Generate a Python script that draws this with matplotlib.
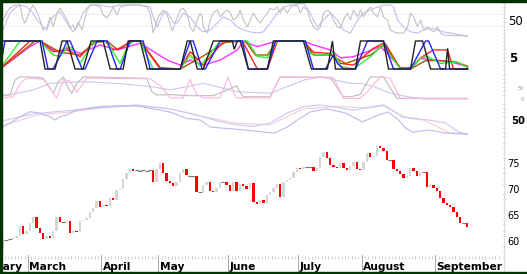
import numpy as np
import matplotlib
matplotlib.use("Agg")
import matplotlib.pyplot as plt
from matplotlib.lines import Line2D
from matplotlib.patches import Rectangle
from matplotlib.ticker import MultipleLocator, FixedLocator
from matplotlib.transforms import blended_transform_factory

# --- DATA ---
# daily closes (trading-day index 0..139), first open below
first_open = 58.6
closes = [
    60.1, 60.2, 60.3, 60.5, 61.0, 62.8, 61.3, 61.9, 63.5, 64.6,
    62.5, 61.5, 60.3, 61.0, 60.6, 62.0, 64.6, 63.7, 63.7, 63.9,
    61.6, 62.0, 61.7, 63.8, 64.0, 64.4, 65.5, 66.3, 67.6, 66.6,
    67.0, 66.8, 68.3, 67.8, 69.8, 70.0, 72.0, 73.0, 73.8, 73.5,
    73.6, 73.5, 73.6, 73.5, 73.6, 71.3, 73.9, 75.0, 73.0, 71.5,
    71.2, 70.6, 71.3, 73.0, 73.8, 72.6, 72.5, 72.5, 69.4, 69.4,
    70.8, 71.3, 69.6, 69.4, 70.2, 71.3, 71.3, 70.8, 69.6, 71.3,
    69.6, 71.0, 70.5, 70.0, 71.2, 67.5, 67.1, 67.9, 67.3, 68.8,
    69.5, 70.2, 71.0, 68.5, 71.3, 71.7, 72.1, 73.3, 74.0, 73.8,
    74.2, 74.2, 74.3, 73.5, 74.0, 76.2, 77.1, 76.0, 74.6, 74.2,
    74.0, 75.0, 74.0, 73.7, 74.5, 75.2, 73.8, 73.6, 75.2, 77.0,
    76.2, 76.4, 78.3, 77.9, 77.3, 75.6, 75.6, 73.9, 73.4, 72.9,
    72.1, 72.5, 74.0, 73.5, 72.5, 73.3, 73.3, 70.4, 70.8, 70.2,
    69.6, 68.3, 67.3, 67.0, 66.5, 65.5, 64.6, 63.4, 63.4, 62.6,
]

month_names = ["February", "March", "April", "May", "June", "July", "August", "September"]
month_starts = [-10.8, 7.5, 29.5, 46.5, 67.5, 88.5, 107.5, 129.5]

# panel 1 (oscillator with 30/70 guides)
p1_gray = [(-0.9, -4), (0, 50), (1.2, 79), (2.1, 93), (3.6, 104), (5.1, 104), (6.0, 50), (6.6, 39),
           (8.1, 86), (9.0, 104), (10.2, 79), (11.1, 50), (12.0, 14), (13.2, 25), (14.1, 61), (15.0, 25),
           (16.2, 75), (17.1, 93), (18.0, 75), (19.2, 50), (20.1, 21), (21.0, 32), (21.6, 14), (22.5, 43),
           (23.7, 14), (25.2, 86), (26.1, 104), (27.6, 104), (29.1, 97), (30.0, 68), (31.2, 57), (32.1, 75),
           (33.0, 97), (34.2, 68), (35.1, 97), (37.2, 104), (41.1, 104), (43.2, 97), (44.1, 75), (45.0, 3),
           (45.6, 25), (46.5, 61), (48.0, 86), (49.2, 68), (50.7, 10), (51.9, 50), (53.1, 86), (54.0, 93),
           (55.2, 68), (56.1, 25), (57.0, 7), (58.2, 50), (59.1, 75), (59.7, 61), (60.0, 25), (61.2, 3),
           (62.1, 50), (63.0, 75), (64.2, 86), (65.1, 61), (66.0, 75), (67.2, 86), (68.1, 75), (69.0, 50),
           (70.2, 61), (71.1, 86), (72.0, 50), (73.2, 25), (74.1, 50), (75.0, 75), (76.2, 50), (77.1, 39),
           (78.0, 57), (79.2, 75), (80.1, 93), (81.0, 86), (82.2, 97), (83.1, 75), (84.0, 97), (85.2, 75),
           (86.1, 97), (88.2, 104), (89.1, 75), (90.0, 97), (91.2, 86), (92.1, 50), (93.0, 25), (94.2, 14),
           (95.1, 25), (96.0, 75), (97.2, 86), (98.1, 75), (99.0, 50), (100.2, 25), (101.1, 21), (102.0, 50),
           (103.2, 75), (104.1, 50), (105.0, 86), (106.2, 61), (107.1, 86), (108.0, 61), (109.2, 86),
           (110.1, 97), (111.0, 75), (112.2, 61), (113.1, 97), (114.0, 61), (115.2, 50), (116.1, 14),
           (117.0, 7), (118.2, 3), (120.0, 3), (121.2, 25), (122.1, 75), (123.0, 61), (124.2, 25),
           (125.1, 50), (126.0, 14), (127.2, 25), (128.1, 14), (129.0, 7), (130.2, 25), (131.1, 3),
           (132.0, -4), (139.2, -8)]
p1_blue = [(-0.9, -11), (0, 14), (1.2, 50), (2.1, 75), (3.6, 93), (5.1, 104), (7.2, 97), (9, 75), (10.2, 50),
           (11.1, 39), (12, 25), (13.2, 14), (14.1, 50), (15, 61), (16.2, 75), (17.1, 79), (18, 61), (19.2, 39),
           (20.1, 21), (21, 7), (22.2, 25), (23.1, 50), (24, 75), (25.2, 93), (26.1, 104), (29.1, 104),
           (32.1, 97), (35.1, 104), (41.1, 104), (44.1, 97), (45, 61), (46.2, 25), (47.1, 50), (48, 75),
           (49.2, 80), (51, 40), (52.2, 39), (54, 75), (56.1, 61), (58.2, 25), (60, 7), (62.1, 14), (64.2, 39),
           (66, 61), (68.1, 50), (70.2, 25), (72, 14), (74.1, 7), (76.2, 3), (78, 7), (80.1, 39), (82.2, 75),
           (84, 97), (86.1, 104), (90, 111), (92.1, 75), (93, 50), (94.2, 25), (96, 50), (98.1, 75),
           (100.2, 50), (102, 14), (104.1, 3), (106.2, 50), (108, 75), (110.1, 86), (112.2, 97), (114, 104),
           (116.1, 104), (117, 97), (118.2, 50), (120, 25), (122.1, 7), (124.2, 3), (126, 14), (128.1, 21),
           (130.2, 14), (132, 7), (134.1, 3), (137.1, -4), (139.2, -8)]

# panel 2 (stochastics, 0..100)
st_black = [(-0.9, 100), (11.1, 100), (12.6, 0), (15.6, 0), (17.7, 100), (19.2, 100), (21.6, 0), (24, 0),
            (26.4, 100), (30, 100), (32.1, 0), (36, 0), (37.5, 100), (41.1, 100), (43.2, 0), (53.1, 0),
            (55.2, 100), (56.1, 100), (58.2, 0), (60, 0), (63, 100), (68.7, 100), (69.3, 70), (70.2, 100),
            (71.1, 100), (73.5, 0), (79.2, 0), (81, 100), (90, 100), (92.4, 0), (97.2, 0), (98.7, 100),
            (99.6, 0), (105.6, 0), (107.1, 100), (114, 100), (115.5, 0), (122.1, 0), (123.6, 100),
            (125.7, 100), (128.1, 0), (132.6, 0), (133.2, 74), (133.8, 0), (139.2, 0)]
st_blue = [(-0.9, 0), (0.6, 100), (11.7, 100), (13.5, 0), (15, 0), (17.7, 60), (19.2, 100), (20.1, 100),
           (23.7, 0), (24.6, 0), (28.2, 100), (31.2, 100), (34.2, 0), (35.1, 0), (38.1, 100), (42, 100),
           (44.1, 0), (53.1, 0), (56.1, 100), (57, 100), (59.7, 0), (60.6, 0), (65.1, 100), (71.7, 100),
           (73.5, 0), (79.2, 0), (81.6, 100), (90.6, 100), (93, 0), (96.6, 0), (99, 50), (100.2, 20), (102, 0),
           (105.6, 0), (109.2, 100), (114, 100), (117, 0), (122.1, 0), (126.6, 100), (127.5, 100), (131.1, 0),
           (139.2, 0)]
st_green = [(-0.9, 0), (5.1, 100), (11.1, 100), (15, 50), (17.1, 45), (19.2, 80), (20.7, 75), (23.1, 20),
            (25.2, 60), (27, 95), (31.2, 100), (33, 60), (35.1, 20), (37.2, 80), (39, 100), (41.1, 100),
            (45, 0), (53.1, 0), (56.1, 50), (59.1, 10), (65.1, 100), (73.2, 100), (76.2, 45), (79.2, 40),
            (81, 80), (82.2, 100), (90, 100), (92.1, 55), (97.2, 50), (99, 60), (101.1, 10), (105, 0),
            (110.1, 44), (113.7, 86), (119.1, 0), (122.1, 0), (125.1, 40), (127.2, 45), (131.1, 20),
            (136.2, 25), (139.2, 5)]
st_red = [(-0.9, 0), (8.1, 100), (11.1, 100), (15, 62), (19.2, 68), (23.1, 44), (27, 95), (30.6, 100),
          (33, 68), (35.7, 75), (38.1, 100), (41.1, 100), (47.1, 0), (53.1, 0), (56.1, 62), (60, 14), (66, 98),
          (71.7, 100), (76.2, 0), (79.2, 0), (82.2, 100), (90, 100), (93, 60), (98.1, 55), (101.1, 20),
          (105, 14), (111, 74), (114, 92), (119.1, 0), (122.1, 0), (125.1, 40), (129, 68), (133.2, 68),
          (135, 0), (139.2, 0)]
st_magenta = [(-0.9, 0), (8.1, 80), (11.1, 100), (13.2, 80), (16.2, 62), (19.2, 74), (23.1, 56), (29.1, 86),
              (34.2, 68), (41.1, 92), (49.2, 32), (53.1, 14), (56.1, 32), (60, 14), (65.1, 32), (70.2, 68),
              (72, 98), (76.2, 80), (82.2, 100), (90, 100), (93, 86), (98.1, 68), (101.1, 40), (105, 44),
              (113.1, 80), (119.1, 5), (122.1, 5), (125.1, 38), (134.1, 26), (139.2, 8)]
st_brown = [(-0.9, 0), (9.6, 100), (11.1, 100), (17.1, 60), (23.1, 50), (27.6, 95), (31.2, 100), (34.2, 70),
            (38.7, 100), (41.1, 100), (47.1, 5), (53.1, 0), (59.1, 40), (66.6, 95), (72.6, 100), (75.6, 50),
            (79.2, 50), (82.2, 100), (90, 100), (93, 50), (98.1, 50), (102.6, 20), (110.1, 50), (114.6, 90),
            (119.1, 0), (122.1, 0), (126.6, 30), (131.1, 30), (135.6, 25), (139.2, 10)]

# panel 3 (0..100)
p3_gray = [(-0.9, 18), (2.1, 18), (3.6, 86), (5.1, 100), (9.1, 100), (12.1, 94), (14.1, 48), (15.1, 26),
           (16.6, 79), (18.1, 100), (19.6, 48), (20.6, 26), (22.1, 71), (24.1, 100), (25.1, 100), (43.1, 94),
           (44.6, 33), (46.1, 18), (50.1, 20), (56, 15), (63, 15), (67, 40), (70, 60), (71, 30), (72, 10),
           (80, 10), (83, 100), (98, 98), (102, 10), (104, 10), (107, 20), (110, 100), (114, 100), (116, 50),
           (118, 3), (139.2, 3)]
p3_pink = [(-0.9, 5), (3.1, 10), (5.1, 70), (7.1, 95), (12.1, 90), (15.1, 26), (16.1, 5), (18.1, 90),
           (20.1, 80), (22.1, 30), (25.1, 95), (44.1, 92), (47.1, 60), (50.1, 5), (54, 5), (56, 90), (58, 20),
           (60, 5), (65, 5), (67.5, 100), (69, 30), (70, 5), (80, 5), (83, 100), (99, 98), (102, 3), (107, 3),
           (109, 30), (113, 100), (116, 95), (119, 3), (139.2, 2)]
p3_lav = [(-0.9, 11), (9.1, 41), (14.1, 71), (24.1, 79), (35, 70), (45, 55), (50.1, 41), (60.1, 71),
          (70.1, 33), (80.1, 26), (90.1, 86), (95.1, 100), (104.1, 71), (107.1, 71), (111.1, 56),
          (116.1, 26), (121.1, 11), (126.1, 0), (139.2, 0)]

# panel 4
p4_upper = [(-0.9, 45), (5, 60), (10, 70), (20, 80), (30, 90), (40, 97), (50, 85), (56, 71), (60, 60),
            (65, 45), (70, 35), (75, 30), (80, 40), (85, 71), (90, 92), (95, 97), (100, 90), (105, 80),
            (111, 92), (114, 97), (116.7, 81), (119.7, 59), (122.7, 56), (127.5, 50), (132.6, 41),
            (136.5, 12), (139.2, 6)]
p4_lower = [(-0.9, 24), (2.1, 40), (5.1, 60), (8.1, 76), (11.1, 71), (14.1, 60), (15.6, 50), (17.1, 60),
            (19.1, 66), (22.1, 81), (25.1, 86), (29.1, 92), (34.1, 94), (40, 94), (45, 85), (50, 75), (55, 55),
            (59.1, 50), (62.1, 28), (72.3, 19), (81.3, 9), (85.2, 28), (88.2, 50), (92, 75), (97, 85),
            (102.6, 72), (107.7, 44), (112.5, 66), (115.5, 75), (118.5, 50), (120.6, 25), (122.7, 12),
            (127.5, 19), (132.6, 9), (139.2, 6)]
p4_pink = [(-0.9, 30), (10, 65), (20, 75), (30, 88), (40, 95), (50, 85), (60, 60), (70, 40), (80, 35),
           (90, 85), (100, 92), (110, 88), (114, 95), (118, 70), (122, 55), (126, 50), (134, 9), (139.2, 6)]


def line(ax, pts, color, lw=0.8, **kw):
    x, y = zip(*pts)
    ax.plot(x, y, color=color, lw=lw, solid_joinstyle="miter", **kw)


def setup(ax, ylim, ticks, labels, size, weight, color, pad_px, minor, ha="left"):
    ax.set_xlim(-0.9, 150.1)
    ax.set_ylim(*ylim)
    for s in ax.spines.values():
        s.set_visible(False)
    ax.tick_params(axis="x", which="both", bottom=False, labelbottom=False)
    ax.yaxis.tick_right()
    ax.set_yticks(ticks)
    ax.set_yticklabels(labels, fontsize=size, fontweight=weight, color=color)
    for t in ax.get_yticklabels():
        t.set_ha(ha)
    ax.tick_params(axis="y", which="major", length=0, pad=pad_px * 0.72)
    ax.yaxis.set_minor_locator(MultipleLocator(minor))
    ax.tick_params(axis="y", which="minor", right=True, left=False, length=2.5,
                   direction="inout", color="#e2d8e2", width=0.6)


W, H = 527, 274
fig = plt.figure(figsize=(W / 100, H / 100), dpi=100)
fig.patch.set_facecolor("white")
AX_W = 504 / W


def panel(top, bottom):
    return fig.add_axes([0, 1 - bottom / H, AX_W, (bottom - top) / H])


# --- PANEL 1 ---
ax1 = panel(2, 38)
setup(ax1, (-15, 115), [50], ["50"], 8.5, "normal", "black", 4, 14)
ax1.axhline(70, color="#d4d4d4", lw=0.7, ls=(0, (1, 2)))
ax1.axhline(30, color="#d4d4d4", lw=0.7, ls=(0, (1, 2)))
line(ax1, p1_blue, "#c0c0f0")
line(ax1, p1_gray, "#c2c2c2")

# --- PANEL 2 ---
ax2 = panel(39, 71)
setup(ax2, (-7.1, 107.1), [43], ["5"], 8.5, "bold", "black", 5, 14)
line(ax2, st_magenta, "#ff33ff", 1.0)
line(ax2, st_brown, "#aa5500", 1.0)
line(ax2, st_red, "#ff2222", 1.0)
line(ax2, st_green, "#33ee33", 1.0)
line(ax2, st_blue, "#2222ff", 1.0)
line(ax2, st_black, "#222222", 1.0)

# --- PANEL 3 ---
ax3 = panel(75, 101)
setup(ax3, (-9.1, 109), [50, 0], ["50", "0"], 3.5, "normal", "#8090b0", 20, 18, ha="right")
line(ax3, p3_lav, "#c8c8f2")
line(ax3, p3_gray, "#bcbcbc")
line(ax3, p3_pink, "#ffb4e0")

# --- PANEL 4 ---
ax4 = panel(103, 137)
setup(ax4, (-3.1, 103.1), [50], ["50"], 7.2, "bold", "black", 7, 12.5)
line(ax4, p4_pink, "#f2ccd8")
line(ax4, p4_upper, "#c8c8f2")
line(ax4, p4_lower, "#babaf0")

# --- PRICE PANEL ---
ax5 = panel(138, 259)
setup(ax5, (56.54, 79.81), [60, 65, 70, 75], ["60", "65", "70", "75"], 7, "normal", "black", 3, 1)
c = np.array(closes)
o = np.concatenate([[first_open], c[:-1]])
idx = np.arange(len(c))
body = np.abs(c - o)
doji = body < 0.15
cols = np.where(c >= o, "#d6d6d6", "#ff0000")
ax5.bar(idx[~doji], body[~doji], bottom=np.minimum(o, c)[~doji], width=0.7,
        color=cols[~doji], linewidth=0)
ax5.hlines(c[doji], idx[doji] - 0.6, idx[doji] + 0.6, color="#777777", lw=0.8)

# daily ticks along the bottom
ax5.set_xticks([])
ax5.xaxis.set_minor_locator(FixedLocator(np.arange(-0.5, 149, 1)))
ax5.tick_params(axis="x", which="minor", bottom=True, direction="in", length=2.2,
                color="#c8c8c8", width=0.6)

# month separators and names
tr = blended_transform_factory(ax5.transData, fig.transFigure)
for name, m in zip(month_names, month_starts):
    ax5.plot([m, m], [1 - 255 / H, 1 - 272 / H], color="#a8a8a8", lw=0.7,
             transform=tr, clip_on=False)
    ax5.text(m + 0.4, 1 - 267 / H, name, transform=tr, fontsize=7.7, fontweight="bold",
             ha="left", va="center", clip_on=False)

# right scale line
fig.add_artist(Line2D([AX_W, AX_W], [1 - 270 / H, 1], color="#e2d8e2", lw=0.8))

# dark green frame
green = "#003300"
fig.add_artist(Rectangle((0, 1 - 1.5 / H), 1, 1.5 / H, color=green, transform=fig.transFigure, zorder=10))
fig.add_artist(Rectangle((0, 0), 1.5 / W, 1, color=green, transform=fig.transFigure, zorder=10))
fig.add_artist(Rectangle((0, 0), 1, 2.3 / H, color=green, transform=fig.transFigure, zorder=10))

fig.savefig("out.png", dpi=100, facecolor="white")
